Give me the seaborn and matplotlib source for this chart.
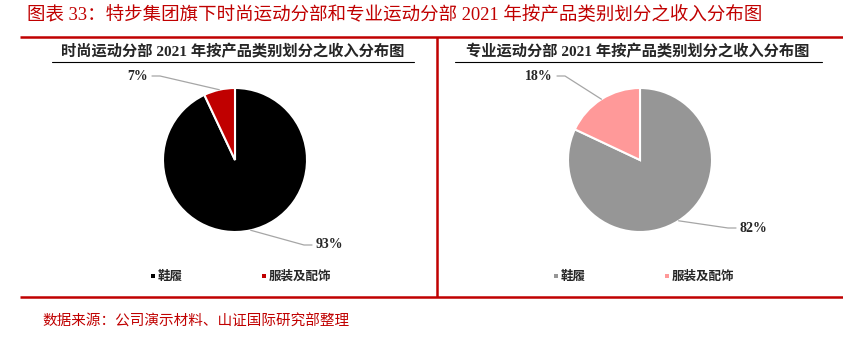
import matplotlib
matplotlib.use("Agg")
import matplotlib.pyplot as plt
import seaborn as sns
import numpy as np

# ---- data ----
categories = ["鞋履", "服装及配饰"]
fashion_values = [93, 7]
pro_values = [82, 18]
fashion_colors = ["#000000", "#C00000"]
pro_colors = ["#969696", "#FF9999"]
main_title = "图表 33：特步集团旗下时尚运动分部和专业运动分部 2021 年按产品类别划分之收入分布图"
sub_titles = ["时尚运动分部 2021 年按产品类别划分之收入分布图",
              "专业运动分部 2021 年按产品类别划分之收入分布图"]
source_note = "数据来源：公司演示材料、山证国际研究部整理"

sns.set_theme(style="white")
plt.rcParams['font.family'] = ['Liberation Serif', 'Noto Sans CJK SC', 'DejaVu Sans']

W, H = 843, 337
fig = plt.figure(figsize=(W / 100, H / 100), dpi=100)
ax = fig.add_axes([0, 0, 1, 1])
ax.set_xlim(0, W)
ax.set_ylim(0, H)
ax.axis("off")

RED = "#C00000"

def Y(y):
    return H - y

# frame lines
ax.plot([20, W], [Y(37), Y(37)], color=RED, lw=1.8, solid_capstyle="butt")
ax.plot([20, W], [Y(297), Y(297)], color=RED, lw=1.8, solid_capstyle="butt")
ax.plot([437, 437], [Y(37), Y(297)], color=RED, lw=1.8, solid_capstyle="butt")

# titles
ax.text(27, Y(14), main_title, color=RED, fontsize=13.3, va="center", ha="left",
        family=['Liberation Serif', 'Noto Sans CJK SC'])
sub_x = [233, 638]
for sx, st in zip(sub_x, sub_titles):
    ax.text(sx, Y(52), st, fontsize=11, fontweight="bold", va="center", ha="center",
            family=['Liberation Serif', 'Noto Sans CJK SC'])
ax.plot([52, 414], [Y(62), Y(62)], color="black", lw=0.8)
ax.plot([455, 822], [Y(62), Y(62)], color="black", lw=0.8)

ax.text(42, Y(322), source_note, color=RED, fontsize=10.5, va="center", ha="left",
        family=['Noto Sans CJK SC'])

R = 72
panels = [
    dict(cx=235, cy=160, vals=fashion_values, cols=fashion_colors,
         label_pos=[(316, 245), (148, 76)], leg_x=[153, 264]),
    dict(cx=640, cy=160, vals=pro_values, cols=pro_colors,
         label_pos=[(740, 228), (553, 76)], leg_x=[556, 667]),
]

for p in panels:
    vals = p["vals"]
    ax.pie(vals, colors=p["cols"], startangle=90, counterclock=False,
           center=(p["cx"], Y(p["cy"])), radius=R,
           wedgeprops=dict(edgecolor="white", linewidth=1.5))
    total = float(sum(vals))
    start = 90.0
    for v, (lx, ly) in zip(vals, p["label_pos"]):
        span = 360.0 * v / total
        mid = np.deg2rad(start - span / 2)
        start -= span
        ex = p["cx"] + R * np.cos(mid)
        ey = Y(p["cy"]) + R * np.sin(mid)
        if lx < p["cx"]:
            # label to the left, anchored at its right edge
            x0, x1 = lx + 4, lx + 12
            ha = "right"
        else:
            x0, x1 = lx - 4, lx - 12
            ha = "left"
        ax.plot([x0, x1, ex], [Y(ly), Y(ly), ey], color="#A6A6A6", lw=0.9)
        ax.text(lx, Y(ly), f"{v}%", fontsize=10, fontweight="bold",
                ha=ha, va="center", family=['Liberation Serif'])
    for cat, col, lgx in zip(categories, p["cols"], p["leg_x"]):
        ax.scatter([lgx], [Y(276)], marker="s", s=7, color=col, linewidths=0)
        ax.text(lgx + 5, Y(276), cat, fontsize=9, fontweight="bold", va="center", ha="left",
                family=['Noto Sans CJK SC'])

ax.set_xlim(0, W)
ax.set_ylim(0, H)
ax.set_aspect("auto")
fig.savefig("out.png", dpi=100)
